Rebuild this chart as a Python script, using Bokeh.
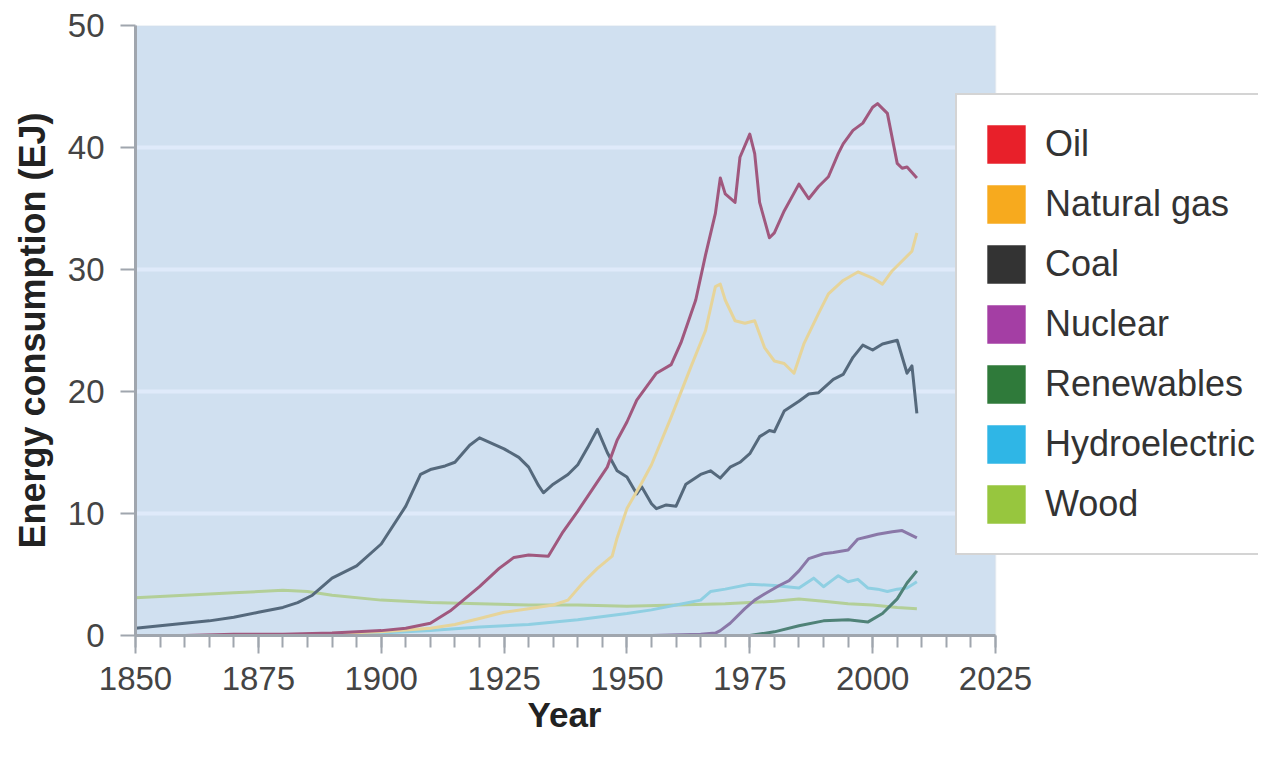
from bokeh.plotting import figure
from bokeh.models import Range1d, FixedTicker, Legend, LegendItem, BoxAnnotation, Title
from bokeh.embed import file_html
from bokeh.resources import INLINE

# ---------------- data (EJ) ----------------
coal_years = [1850, 1855, 1860, 1865, 1870, 1875, 1880, 1883, 1886, 1890, 1895, 1900, 1905,
              1908, 1910, 1913, 1915, 1918, 1920, 1925, 1928, 1930, 1932, 1933, 1935, 1938,
              1940, 1942, 1944, 1946, 1948, 1950, 1952, 1953, 1955, 1956, 1958, 1960, 1962,
              1965, 1967, 1969, 1971, 1973, 1975, 1977, 1979, 1980, 1982, 1985, 1987, 1989,
              1992, 1994, 1996, 1998, 2000, 2002, 2005, 2007, 2008, 2009]
coal_vals = [0.6, 0.8, 1.0, 1.2, 1.5, 1.9, 2.3, 2.7, 3.3, 4.7, 5.7, 7.5, 10.6,
             13.2, 13.6, 13.9, 14.2, 15.6, 16.2, 15.3, 14.6, 13.8, 12.3, 11.7, 12.4, 13.2,
             14.0, 15.4, 16.9, 15.0, 13.5, 13.0, 11.6, 12.2, 10.8, 10.4, 10.7, 10.6, 12.4,
             13.2, 13.5, 12.9, 13.8, 14.2, 14.9, 16.3, 16.8, 16.7, 18.4, 19.2, 19.8, 19.9,
             21.0, 21.4, 22.8, 23.8, 23.4, 23.9, 24.2, 21.5, 22.1, 18.2]

oil_years = [1860, 1870, 1880, 1890, 1900, 1905, 1910, 1914, 1917, 1920, 1924, 1927, 1930,
             1934, 1937, 1940, 1943, 1946, 1948, 1950, 1952, 1956, 1959, 1961, 1964, 1966,
             1968, 1969, 1970, 1972, 1973, 1975, 1976, 1977, 1979, 1980, 1982, 1985, 1987,
             1989, 1991, 1993, 1994, 1996, 1998, 2000, 2001, 2003, 2005, 2006, 2007, 2009]
oil_vals = [0.0, 0.1, 0.1, 0.2, 0.4, 0.6, 1.0, 2.0, 3.0, 4.0, 5.5, 6.4, 6.6,
            6.5, 8.5, 10.2, 12.0, 13.8, 16.0, 17.5, 19.3, 21.5, 22.2, 24.0, 27.5, 31.2,
            34.6, 37.5, 36.2, 35.5, 39.2, 41.1, 39.5, 35.5, 32.6, 33.0, 34.8, 37.0, 35.8,
            36.8, 37.6, 39.5, 40.3, 41.4, 42.0, 43.3, 43.6, 42.8, 38.7, 38.3, 38.4, 37.5]

gas_years = [1885, 1900, 1910, 1915, 1920, 1925, 1930, 1935, 1938, 1941, 1944, 1947, 1948,
             1950, 1953, 1955, 1959, 1963, 1966, 1968, 1969, 1970, 1972, 1974, 1976, 1978,
             1980, 1982, 1984, 1986, 1989, 1991, 1994, 1997, 2000, 2002, 2004, 2006, 2008, 2009]
gas_vals = [0.1, 0.3, 0.6, 0.9, 1.4, 1.9, 2.2, 2.5, 2.9, 4.3, 5.5, 6.5, 8.0,
            10.4, 12.5, 14.0, 17.9, 22.0, 25.0, 28.6, 28.8, 27.5, 25.8, 25.6, 25.8, 23.6,
            22.5, 22.3, 21.5, 23.9, 26.4, 28.0, 29.1, 29.8, 29.3, 28.8, 29.9, 30.7, 31.5, 33.0]

nuclear_years = [1955, 1965, 1968, 1969, 1971, 1974, 1976, 1978, 1981, 1983, 1985, 1987,
                 1990, 1992, 1995, 1997, 1999, 2001, 2004, 2006, 2009]
nuclear_vals = [0.0, 0.1, 0.2, 0.4, 1.0, 2.2, 2.9, 3.4, 4.1, 4.5, 5.3, 6.3,
                6.7, 6.8, 7.0, 7.9, 8.1, 8.3, 8.5, 8.6, 8.0]

renew_years = [1975, 1980, 1985, 1990, 1995, 1999, 2002, 2005, 2007, 2009]
renew_vals = [0.0, 0.3, 0.8, 1.2, 1.3, 1.1, 1.8, 3.0, 4.3, 5.3]

hydro_years = [1895, 1900, 1910, 1920, 1930, 1940, 1950, 1955, 1960, 1965, 1967, 1970,
               1975, 1980, 1985, 1988, 1990, 1992, 1993, 1995, 1997, 1999, 2001, 2003,
               2005, 2007, 2009]
hydro_vals = [0.1, 0.2, 0.4, 0.7, 0.9, 1.3, 1.8, 2.1, 2.5, 2.9, 3.6, 3.8,
              4.2, 4.1, 3.9, 4.7, 4.0, 4.6, 4.9, 4.4, 4.6, 3.9, 3.8, 3.6,
              3.8, 3.9, 4.4]

wood_years = [1850, 1860, 1870, 1880, 1885, 1890, 1900, 1910, 1920, 1930, 1940, 1950,
              1960, 1970, 1980, 1985, 1990, 1995, 2000, 2005, 2009]
wood_vals = [3.1, 3.3, 3.5, 3.7, 3.6, 3.3, 2.9, 2.7, 2.6, 2.5, 2.5, 2.4,
             2.5, 2.6, 2.8, 3.0, 2.8, 2.6, 2.5, 2.3, 2.2]

legend_labels = ["Oil", "Natural gas", "Coal", "Nuclear", "Renewables", "Hydroelectric", "Wood"]
legend_colors = ["#e8202a", "#f7aa1e", "#333333", "#a43ea4", "#2f7a3a", "#2fb6e6", "#97c63e"]

x_ticks = [1850, 1875, 1900, 1925, 1950, 1975, 2000, 2025]
y_ticks = [0, 10, 20, 30, 40, 50]
grid_values = [10, 20, 30, 40]

FONT = "Liberation Sans"
NAN = float("nan")

# frame spans to the right edge so the legend (which overlaps the plot) is not clipped;
# the blue plot area itself covers only 1850-2025.
X0, X1 = x_ticks[0], x_ticks[-1]
FRAME_LEFT, PLOT_RIGHT_PX, FIG_W = 135, 995, 1258
px_per_year = (PLOT_RIGHT_PX - FRAME_LEFT) / (X1 - X0)
x_end = X0 + (FIG_W - FRAME_LEFT) / px_per_year

p = figure(width=FIG_W, height=742, output_backend="svg", toolbar_location=None,
           x_range=Range1d(X0, x_end), y_range=Range1d(y_ticks[0], y_ticks[-1]),
           min_border_left=FRAME_LEFT, min_border_right=0, min_border_top=25, min_border_bottom=107)

p.background_fill_color = "white"
p.border_fill_color = "white"
p.outline_line_color = None
p.xgrid.grid_line_color = None
p.ygrid.grid_line_color = None

plot_bg = BoxAnnotation(left=X0, right=X1, bottom=y_ticks[0], top=y_ticks[-1],
                        fill_color="#d0e0f0", fill_alpha=1.0,
                        line_color="#d4dbe4", line_width=2, level="underlay")
p.add_layout(plot_bg)

# horizontal grid lines over the plot area
p.segment(x0=[X0] * len(grid_values), x1=[X1] * len(grid_values),
          y0=grid_values, y1=grid_values, line_color="#dfeafa", line_width=4)

# lines
series = [
    (wood_years, wood_vals, "#b3cf98"),
    (hydro_years, hydro_vals, "#8fcfe2"),
    (renew_years, renew_vals, "#4f8277"),
    (nuclear_years, nuclear_vals, "#8a78a8"),
    (coal_years, coal_vals, "#55697c"),
    (gas_years, gas_vals, "#e6d49a"),
    (oil_years, oil_vals, "#a0587e"),
]
for xs, ys, c in series:
    p.line(xs, ys, line_color=c, line_width=3, line_join="round")

# legend swatches (quads with no drawable extent; only their legend glyph shows)
items = []
for lab, col in zip(legend_labels, legend_colors):
    r = p.quad(left=[NAN], right=[NAN], top=[NAN], bottom=[NAN], fill_color=col, line_color=None)
    items.append(LegendItem(label=lab, renderers=[r]))

legend = Legend(items=items, location=(820, 80), glyph_width=48, glyph_height=48,
                spacing=12, padding=25, label_standoff=15, margin=0,
                label_text_font=FONT, label_text_font_size="36px", label_text_color="#333333",
                border_line_color="#aaaaaa", border_line_width=2,
                background_fill_color="white", background_fill_alpha=1.0)
p.add_layout(legend)

# axes
p.xaxis.ticker = FixedTicker(ticks=x_ticks, minor_ticks=list(range(X0, X1 + 1, 5)))
p.xaxis.bounds = (X0, X1)
p.yaxis.ticker = FixedTicker(ticks=y_ticks, minor_ticks=[])
for ax in (p.xaxis[0], p.yaxis[0]):
    ax.axis_line_color = "#a0a6ae"
    ax.axis_line_width = 3
    ax.major_tick_line_color = "#a0a6ae"
    ax.major_tick_line_width = 2
    ax.minor_tick_line_color = "#a0a6ae"
    ax.minor_tick_line_width = 2
    ax.major_tick_in = 0
    ax.minor_tick_in = 0
    ax.major_label_text_font = FONT
    ax.major_label_text_font_size = "33px"
    ax.major_label_text_color = "#444444"
    ax.axis_label_text_font = FONT
    ax.axis_label_text_font_size = "36px"
    ax.axis_label_text_font_style = "bold"
    ax.axis_label_text_color = "#222222"

p.xaxis.major_tick_out = 18
p.xaxis.minor_tick_out = 12
p.xaxis.major_label_standoff = 13

p.yaxis.major_tick_out = 15
p.yaxis.minor_tick_out = 0
p.yaxis.major_label_standoff = 16
p.yaxis.axis_label = "Energy consumption (EJ)"
p.yaxis.axis_label_standoff = 12

# x-axis title, centred under the 1850-2025 plot area
year_title = Title(text="Year", align="left", offset=392, standoff=0,
                   text_font=FONT, text_font_size="35px", text_font_style="bold",
                   text_color="#222222")
p.add_layout(year_title, "below")

open("out.html", "w").write(file_html(p, INLINE))
